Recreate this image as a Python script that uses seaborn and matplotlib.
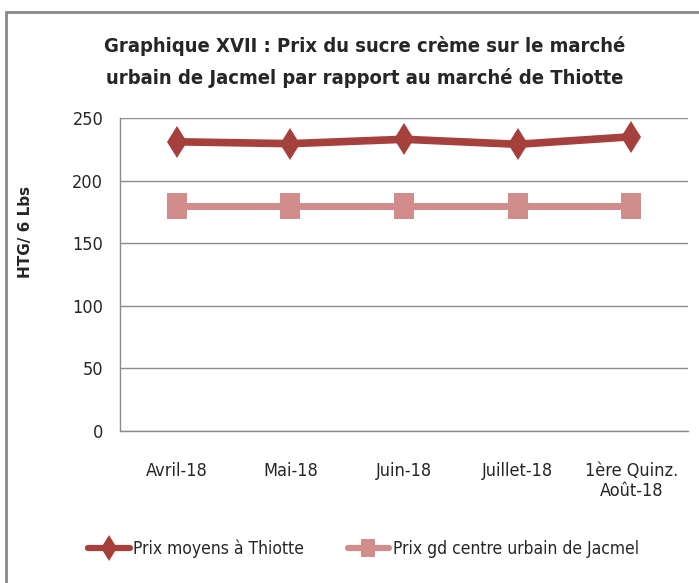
import numpy as np, pandas as pd
import seaborn as sns
import matplotlib.pyplot as plt
from matplotlib.patches import Rectangle
from matplotlib.ticker import FixedLocator

mois = ['Avril-18', 'Mai-18', 'Juin-18', 'Juillet-18', '1ère Quinz.\nAoût-18']
thiotte = [231, 229.5, 233, 229, 235]
jacmel = [180, 180, 180, 180, 180]
noms = ['Prix moyens à Thiotte', 'Prix gd centre urbain de Jacmel']

df = pd.DataFrame({
    'mois': mois * 2,
    'prix': thiotte + jacmel,
    'serie': [noms[0]] * 5 + [noms[1]] * 5,
})

sns.set_style('white')
plt.rcParams['font.family'] = ['DejaVu Sans']
plt.rcParams['font.stretch'] = 'condensed'

# carré étiré verticalement, comme dans l'original
carre = [(-0.74, -1), (0.74, -1), (0.74, 1), (-0.74, 1), (-0.74, -1)]

fig = plt.figure(figsize=(6.99, 5.83), dpi=100)
ax = fig.add_axes([120/699, 1-431/583, (688-120)/699, (431-118)/583])

couleurs = {noms[0]: '#A6403D', noms[1]: '#D18D8C'}
sns.lineplot(data=df, x='mois', y='prix', hue='serie', style='serie',
             palette=couleurs, markers={noms[0]: 'd', noms[1]: carre},
             dashes=False, linewidth=5.5, markersize=19, markeredgewidth=0,
             sort=False, legend=False, ax=ax)
ax.lines[0].set_markersize(16.5)
ax.lines[1].set_linewidth(5)

ax.set_xlim(-0.5, 4.5)
ax.set_ylim(0, 250)
ax.set_yticks(range(0, 251, 50))
ax.grid(axis='y', color='#8c8c8c', linewidth=1)
ax.set_axisbelow(True)
for s in ['top', 'right']:
    ax.spines[s].set_visible(False)
for s in ['left', 'bottom']:
    ax.spines[s].set_color('#8c8c8c')
    ax.spines[s].set_linewidth(1)

ax.tick_params(axis='x', which='major', length=0, pad=22, labelsize=13)
ax.xaxis.set_minor_locator(FixedLocator(np.arange(-0.5, 5, 1)))
ax.tick_params(axis='x', which='minor', length=7, color='#8c8c8c', width=1)
ax.tick_params(axis='y', length=6, color='#8c8c8c', width=1, labelsize=13, pad=6)
ax.set_xlabel('')
ax.set_ylabel('HTG/ 6 Lbs', fontsize=11, fontweight='bold', fontstretch='normal')
ax.yaxis.set_label_coords((33-120)/568, (431-232)/313)

fig.text(0.522, 1-46/583, 'Graphique XVII : Prix du sucre crème sur le marché',
         ha='center', va='center', fontsize=14.5, fontweight='bold')
fig.text(0.522, 1-78/583, 'urbain de Jacmel par rapport au marché de Thiotte',
         ha='center', va='center', fontsize=14.5, fontweight='bold')

h1 = plt.Line2D([], [], color=couleurs[noms[0]], marker='d', lw=4.5, ms=13, mew=0)
h2 = plt.Line2D([], [], color=couleurs[noms[1]], marker=carre, lw=4.5, ms=13, mew=0)
fig.legend([h1, h2], noms, loc='center', bbox_to_anchor=(0.52, 1-549/583),
           ncol=2, frameon=False, fontsize=12.5, handlelength=2.4, columnspacing=2.5,
           handletextpad=0.2)

fig.patches.append(Rectangle((6/699, -0.02), 1.1, 1-12/583+0.02, transform=fig.transFigure,
                             fill=False, edgecolor='#8a8a8a', linewidth=2))

fig.savefig('out.png', dpi=100)
